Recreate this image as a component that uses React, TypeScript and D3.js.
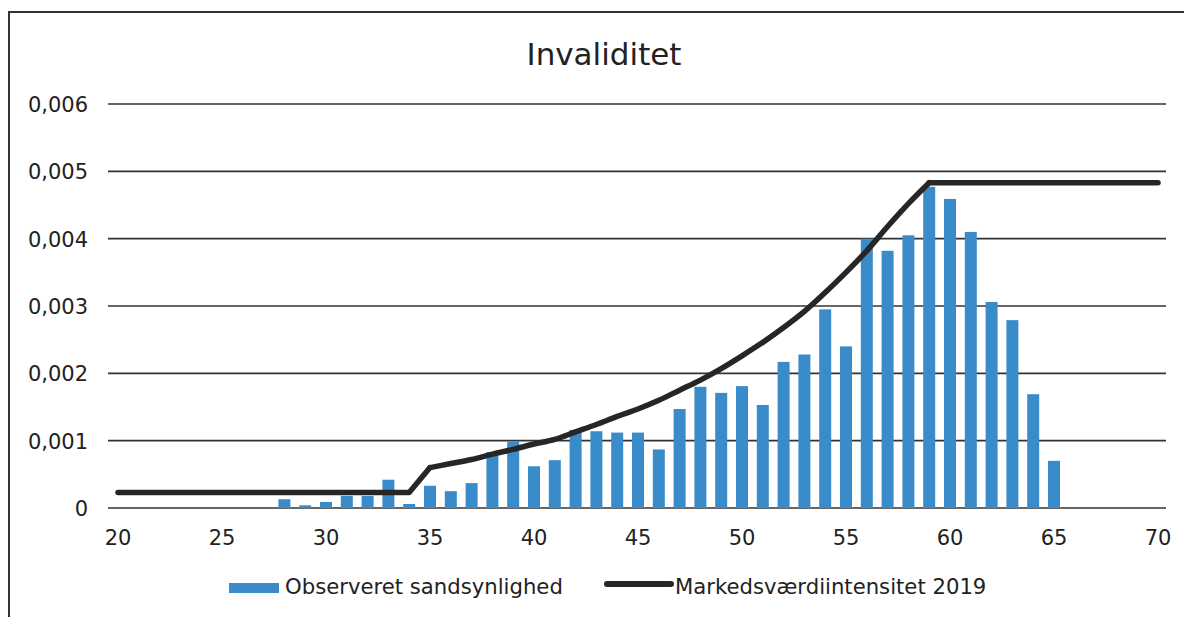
import * as d3 from "d3";

// ages with observed probability (bars)
const barAges = [28, 29, 30, 31, 32, 33, 34, 35, 36, 37, 38, 39, 40, 41, 42, 43, 44, 45, 46,
  47, 48, 49, 50, 51, 52, 53, 54, 55, 56, 57, 58, 59, 60, 61, 62, 63, 64, 65];
const observed = [0.00013, 0.00004, 0.00009, 0.00018, 0.00018, 0.00042, 0.00006, 0.00033,
  0.00025, 0.00037, 0.00083, 0.00099, 0.00062, 0.00071, 0.00116, 0.00114, 0.00112, 0.00112,
  0.00087, 0.00147, 0.0018, 0.00171, 0.00181, 0.00153, 0.00217, 0.00228, 0.00295, 0.0024,
  0.004, 0.00382, 0.00405, 0.00477, 0.00459, 0.0041, 0.00306, 0.00279, 0.00169, 0.0007];

// market value intensity 2019 (line)
const flatAges = [20, 34, 35];
const flatValues = [0.00023, 0.00023, 0.0006];
const curveAges = [35, 36, 37, 38, 39, 40, 41, 42, 43, 44, 45, 46, 47, 48, 49, 50,
  51, 52, 53, 54, 55, 56, 57, 58, 59];
const curveValues = [0.0006, 0.00066, 0.00072, 0.0008, 0.00087, 0.00095,
  0.00102, 0.00113, 0.00124, 0.00136, 0.00147, 0.0016, 0.00175, 0.0019, 0.00207, 0.00226,
  0.00246, 0.00268, 0.00292, 0.0032, 0.0035, 0.00382, 0.00418, 0.00452, 0.00483];
const tailAges = [59, 70];
const tailValues = [0.00483, 0.00483];

const xTicks = [20, 25, 30, 35, 40, 45, 50, 55, 60, 65, 70];
const yTicks = [0, 0.001, 0.002, 0.003, 0.004, 0.005, 0.006];
const yTickLabels = ["0", "0,001", "0,002", "0,003", "0,004", "0,005", "0,006"];

const title = "Invaliditet";
const legendBars = "Observeret sandsynlighed";
const legendLine = "Markedsværdiintensitet 2019";

export default function App() {
  const width = 1184;
  const height = 617;
  const font = "DejaVu Sans, Verdana, sans-serif";
  const barColor = "#3a8bc9";
  const lineColor = "#262626";

  const x = d3.scaleLinear([20, 70], [118, 1158]);
  const y = d3.scaleLinear([0, 0.006], [508, 104]);

  const pathFor = (ages: number[], values: number[], curve: d3.CurveFactory) =>
    d3.line<number>()
      .x((_, i) => x(ages[i]))
      .y(d => y(d))
      .curve(curve)(values) ?? "";

  const barW = 12;

  return (
    <svg width={width} height={height}
      style={{ position: "absolute", left: 0, top: 0, background: "#fff" }}
      fontFamily={font}>
      <rect x={9} y={12} width={1190} height={620} fill="#fff" stroke="#333" strokeWidth={2} />
      <text x={604} y={65} textAnchor="middle" fontSize={31} fill="#222">{title}</text>

      <g stroke="#333" strokeWidth={1.6}>
        {yTicks.map(t => (
          <line key={t} x1={108} x2={1166} y1={y(t)} y2={y(t)} />
        ))}
      </g>
      <g fontSize={21} fill="#222" textAnchor="end">
        {yTicks.map((t, i) => (
          <text key={t} x={88} y={y(t) + 8}>{yTickLabels[i]}</text>
        ))}
      </g>
      <g fontSize={21} fill="#222" textAnchor="middle">
        {xTicks.map(t => (
          <text key={t} x={x(t)} y={545}>{t}</text>
        ))}
      </g>

      <g fill={barColor}>
        {observed.map((d, i) => (
          <rect key={i} x={x(barAges[i]) - barW / 2} y={y(d)} width={barW} height={y(0) - y(d)} />
        ))}
      </g>

      <g fill="none" stroke={lineColor} strokeWidth={5.5} strokeLinejoin="round" strokeLinecap="round">
        <path d={pathFor(flatAges, flatValues, d3.curveLinear)} />
        <path d={pathFor(curveAges, curveValues, d3.curveMonotoneX)} />
        <path d={pathFor(tailAges, tailValues, d3.curveLinear)} />
      </g>

      <g fontSize={21.2} fill="#222">
        <rect x={229} y={583} width={50} height={10} fill={barColor} />
        <text x={285} y={594}>{legendBars}</text>
        <line x1={607} x2={671} y1={584} y2={584} stroke={lineColor} strokeWidth={6} strokeLinecap="round" />
        <text x={675} y={594}>{legendLine}</text>
      </g>
    </svg>
  );
}
